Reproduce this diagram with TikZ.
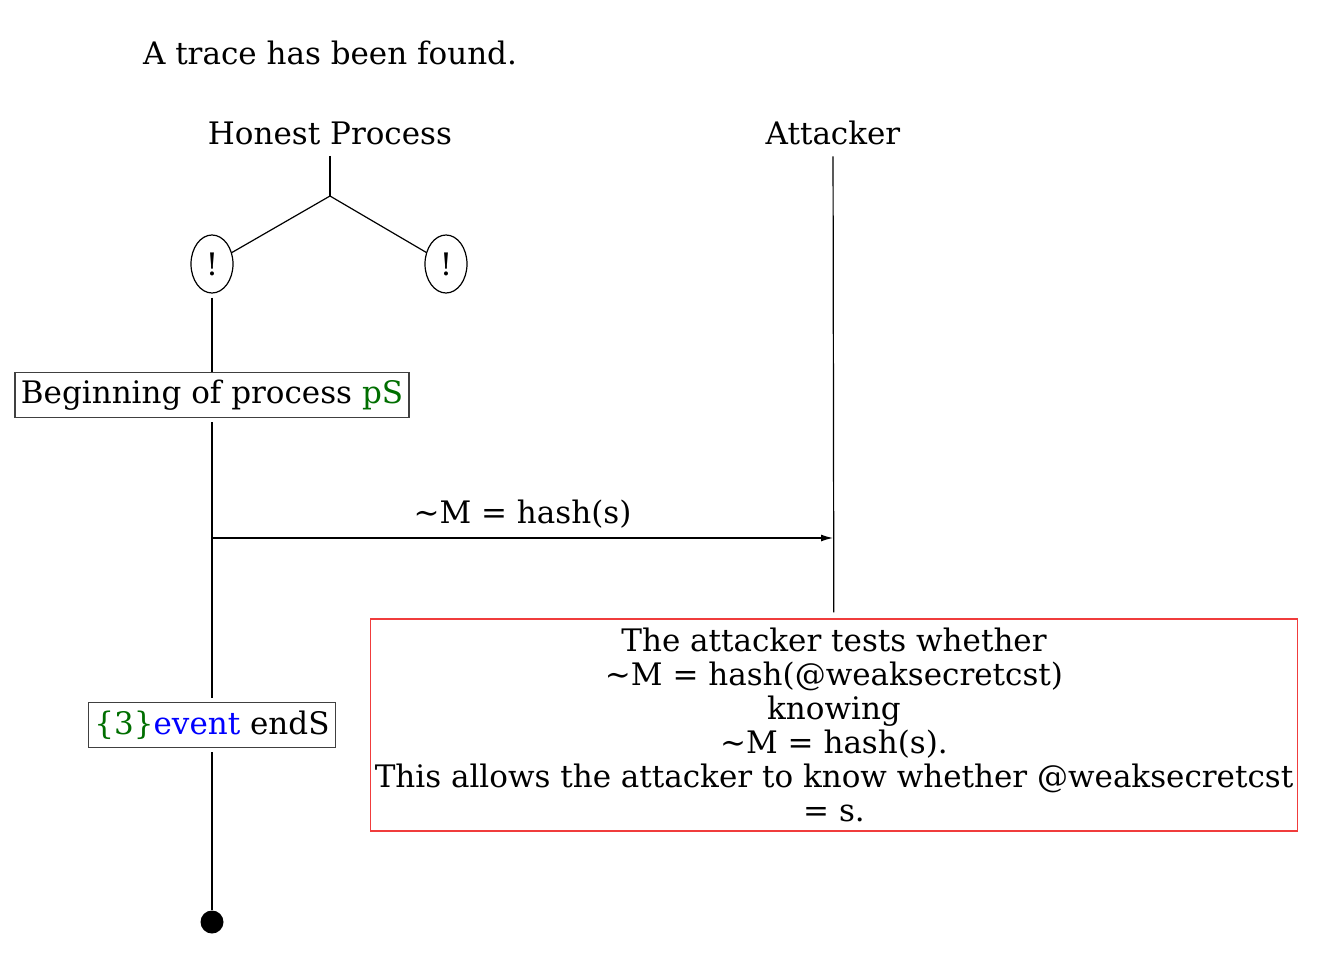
\documentclass[tikz,border=0pt]{standalone}
\usepackage{fontspec}
\setmainfont{DejaVu Serif}
\usetikzlibrary{shapes.geometric,arrows.meta}
\definecolor{evgreen}{RGB}{0,110,0}
\definecolor{failred}{RGB}{240,60,60}

\begin{document}
\begin{tikzpicture}[x=0.5pt,y=-0.5pt,
    every node/.style={font=\fontsize{15.5}{17}\selectfont},
    stepbox/.style={draw=black!75, rectangle, inner xsep=3pt, minimum height=22.5pt},
    bang/.style={draw, ellipse, minimum width=21pt, minimum height=29pt, inner sep=0pt},
    testbox/.style={draw=failred, rectangle, align=center, inner xsep=2pt, minimum width=463pt, minimum height=106pt},
    msg/.style={-{Latex[length=6pt,width=3.5pt]}},
    line width=0.6pt]

      \useasboundingbox (0,0) rectangle (1317,963);

      \node (title) at (330,53) {A trace has been found.};
      \node (hp) at (330,133) {Honest Process};
      \node (att) at (833,133) {Attacker};

      % honest process splits into two replications
      \coordinate (fork) at (330,196);
      \node[bang] (b1) at (212,264) {!};
      \node[bang] (b2) at (446,264) {!};
      \draw[shorten <=2pt] (hp) -- (fork);
      \draw (fork) -- (b1);
      \draw (fork) -- (b2);

      \node[stepbox] (begin) at (212,395) {Beginning of process \textcolor{evgreen}{pS}};
      \node[stepbox] (ev) at (212,725) {\textcolor{evgreen}{\{3\}}\textcolor{blue}{event} endS};
      \node[circle, fill, inner sep=0pt, minimum size=11.5pt] (stop) at (212,922) {};

      \draw[shorten <=2pt] (b1) -- (begin);
      \draw[shorten <=2pt, shorten >=2pt] (begin) -- (ev);
      \draw[shorten <=2pt] (ev) -- (stop);

      % message to the attacker
      \coordinate (snd) at (212,538);
      \coordinate (rcv) at (833,538);
      \draw[msg] (snd) -- (rcv) node[pos=0.5, above=1pt] {\textasciitilde M = hash(s)};

      \node[testbox] (test) at (834,725) {The attacker tests whether\\
        \textasciitilde M = hash(@weaksecretcst)\\
        knowing\\
        \textasciitilde M = hash(s).\\
        This allows the attacker to know whether @weaksecretcst\\
        = s.};
      \draw[shorten <=2pt, shorten >=3pt] (att) -- (test);

\end{tikzpicture}
\end{document}
